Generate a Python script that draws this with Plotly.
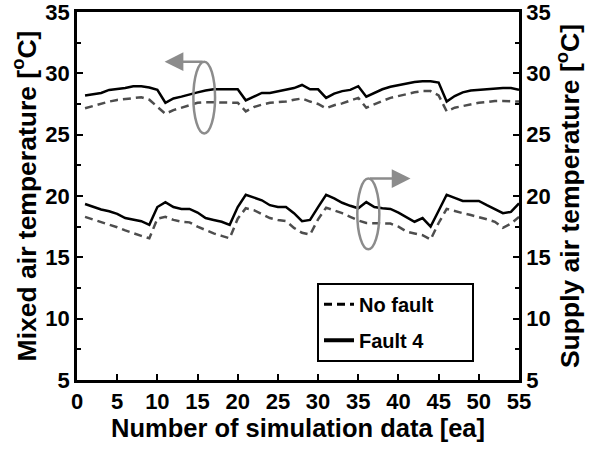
import plotly.graph_objects as go

sample_no = list(range(1, 56))

mixed_fault = [28.2, 28.3, 28.4, 28.65, 28.7, 28.8, 28.95, 28.95, 28.85, 28.65,
               27.6, 27.95, 28.1, 28.3, 28.45, 28.6, 28.7, 28.7, 28.7, 28.7,
               27.8, 28.1, 28.4, 28.4, 28.55, 28.7, 28.8, 29.05, 28.7, 28.7,
               28.0, 28.35, 28.55, 28.65, 28.95, 28.1, 28.4, 28.7, 28.9, 29.05,
               29.2, 29.3, 29.35, 29.35, 29.25, 27.7, 28.15, 28.45, 28.6, 28.65,
               28.7, 28.8, 28.8, 28.8, 28.65]
mixed_nofault = [27.15, 27.35, 27.55, 27.7, 27.83, 27.9, 27.95, 28.05, 27.85, 27.3,
                 26.7, 27.0, 27.2, 27.45, 27.6, 27.65, 27.65, 27.65, 27.65, 27.6,
                 26.9, 27.25, 27.45, 27.6, 27.65, 27.7, 27.85, 27.95, 27.7, 27.5,
                 27.15, 27.4, 27.55, 27.75, 28.0, 27.2, 27.5, 27.75, 28.0, 28.15,
                 28.35, 28.45, 28.55, 28.55, 28.2, 26.9, 27.2, 27.35, 27.5, 27.6,
                 27.65, 27.75, 27.75, 27.75, 27.7]
supply_fault = [19.35, 19.1, 18.9, 18.75, 18.55, 18.2, 18.1, 17.95, 17.65, 19.1,
                19.5, 19.1, 18.95, 18.95, 18.65, 18.2, 18.05, 17.9, 17.65, 19.1,
                20.1, 19.9, 19.65, 19.25, 19.1, 19.1, 18.6, 17.95, 18.05, 19.1,
                20.1, 19.8, 19.45, 19.2, 19.0, 19.5, 19.1, 19.0, 18.95, 18.65,
                18.3, 17.9, 18.2, 17.5, 18.8, 20.1, 19.85, 19.6, 19.6, 19.6,
                19.25, 18.95, 18.6, 18.7, 19.4]
supply_nofault = [18.3, 18.1, 17.9, 17.7, 17.45, 17.2, 16.95, 16.75, 16.55, 18.15,
                  18.3, 18.05, 17.9, 17.85, 17.5, 17.2, 16.95, 16.75, 16.55, 18.15,
                  19.0, 18.85, 18.55, 18.2, 18.05, 17.95, 17.4, 17.0, 16.85, 18.1,
                  19.05, 18.85, 18.6, 18.3, 18.0, 17.8, 17.8, 17.8, 17.75, 17.5,
                  17.1, 16.95, 16.8, 16.45, 17.8, 18.95, 18.75, 18.6, 18.45, 18.3,
                  18.1, 17.9, 17.4, 17.75, 18.3]

x_ticks = [0, 5, 10, 15, 20, 25, 30, 35, 40, 45, 50, 55]
y_ticks = [5, 10, 15, 20, 25, 30, 35]

DASH_COL = "#4d4d4d"
GRAY = "#8c8c8c"
FONT = "Liberation Sans, Arial, sans-serif"
DASH = "8px,5px"
PAD = "\u00a0" * 6

fig = go.Figure()
fig.add_trace(go.Scatter(x=sample_no, y=mixed_nofault, mode="lines",
                         line=dict(color=DASH_COL, width=2.5, dash=DASH),
                         showlegend=False, yaxis="y"))
fig.add_trace(go.Scatter(x=sample_no, y=mixed_fault, mode="lines",
                         line=dict(color="black", width=2.5),
                         showlegend=False, yaxis="y"))
fig.add_trace(go.Scatter(x=sample_no, y=supply_nofault, mode="lines",
                         line=dict(color=DASH_COL, width=2.5, dash=DASH),
                         showlegend=False, yaxis="y2"))
fig.add_trace(go.Scatter(x=sample_no, y=supply_fault, mode="lines",
                         line=dict(color="black", width=2.5),
                         showlegend=False, yaxis="y2"))
# legend entries
fig.add_trace(go.Scatter(x=[None], y=[None], mode="lines", name="No fault" + PAD,
                         line=dict(color="black", width=3, dash=DASH),
                         legendgroup="a"))
fig.add_trace(go.Scatter(x=[None], y=[None], mode="lines", name="Fault 4" + PAD,
                         line=dict(color="black", width=4),
                         legendgroup="b"))

axis_common = dict(showline=True, linecolor="black", linewidth=2.5,
                   ticks="inside", tickcolor="black", tickwidth=2, ticklen=6,
                   showgrid=False, zeroline=False, automargin=False,
                   ticklabeloverflow="allow",
                   tickfont=dict(size=22, family=FONT, color="black", weight="bold"))
x_title_font = dict(size=25.5, family=FONT, color="black", weight="bold")
y_title_font = dict(size=26.5, family=FONT, color="black", weight="bold")
minor_ticks = dict(dtick=2.5, tick0=5, ticks="inside", ticklen=4, tickwidth=2, tickcolor="black")

fig.update_layout(
    width=598, height=451,
    margin=dict(l=77, r=79, t=12, b=71, autoexpand=False),
    paper_bgcolor="white", plot_bgcolor="white",
    font=dict(family=FONT, size=20, color="black", weight="bold"),
    xaxis=dict(range=[0, 55], tickvals=x_ticks, mirror=True,
               title=dict(text="Number of simulation data [ea]", standoff=4, font=x_title_font),
               **axis_common),
    yaxis=dict(range=[5, 35], tickvals=y_ticks, mirror=True, minor=minor_ticks,
               title=dict(text="Mixed air temperature [<sup>o</sup>C]", standoff=2, font=y_title_font),
               **axis_common),
    yaxis2=dict(range=[5, 35], tickvals=y_ticks, overlaying="y", side="right",
                minor=minor_ticks,
                title=dict(text="Supply air temperature [<sup>o</sup>C]", standoff=2, font=y_title_font),
                **axis_common),
    legend=dict(x=0.543, y=0.264, xanchor="left", yanchor="top",
                bordercolor="black", borderwidth=2, bgcolor="white",
                tracegroupgap=7,
                font=dict(size=20, family=FONT, color="black", weight="bold")),
)

# ellipses and arrows indicating the axis of each group
fig.add_shape(type="circle", xref="x", yref="y", x0=14.48, x1=17.18, y0=25.1, y1=30.95,
              line=dict(color=GRAY, width=2.5))
fig.add_shape(type="circle", xref="x", yref="y", x0=34.88, x1=37.62, y0=15.66, y1=21.42,
              line=dict(color=GRAY, width=2.5))
fig.add_annotation(x=10.9, y=30.95, ax=15.83, ay=30.95, xref="x", yref="y",
                   axref="x", ayref="y", text="", showarrow=True, arrowhead=2,
                   arrowsize=1.5, arrowwidth=2.5, arrowcolor=GRAY)
fig.add_annotation(x=41.5, y=21.42, ax=36.25, ay=21.42, xref="x", yref="y",
                   axref="x", ayref="y", text="", showarrow=True, arrowhead=2,
                   arrowsize=1.5, arrowwidth=2.5, arrowcolor=GRAY)

fig.write_html(
    "out.html",
    config={"displayModeBar": False},
    post_script="document.body.style.margin='0';document.body.style.overflow='hidden';",
)
